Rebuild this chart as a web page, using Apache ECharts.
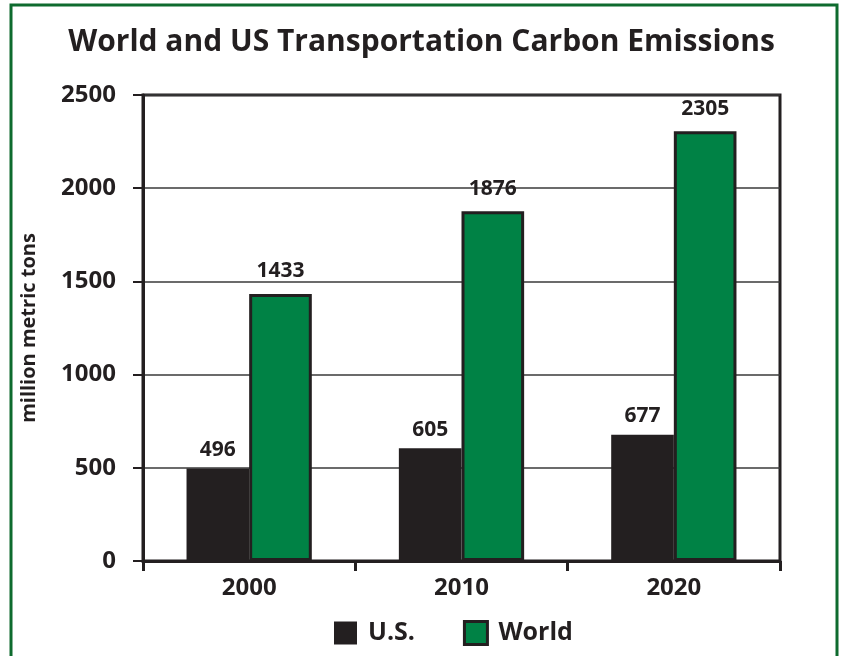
<!DOCTYPE html>
<html>
<head>
<meta charset="utf-8">
<script src="https://cdn.jsdelivr.net/npm/echarts@6/dist/echarts.min.js"></script>
<style>
  html, body { margin: 0; padding: 0; background: #fff; }
  #chart { width: 843px; height: 656px; }
</style>
</head>
<body>
<div id="chart"></div>
<script>
  const years = ['2000', '2010', '2020'];
  const usValues = [496, 605, 677];
  const worldValues = [1433, 1876, 2305];
  const yTicks = { min: 0, max: 2500, interval: 500 };

  const dark = '#231f20';
  const green = '#008245';
  const font = 'Open Sans';

  const chart = echarts.init(document.getElementById('chart'));
  chart.setOption({
    backgroundColor: '#fff',
    animation: false,
    textStyle: { fontFamily: font },
    graphic: [
      {
        type: 'rect',
        shape: { x: 11, y: 5, width: 826, height: 700 },
        style: { fill: 'none', stroke: '#0e6b2e', lineWidth: 3 },
        silent: true
      }
    ],
    title: {
      text: 'World and US Transportation Carbon Emissions',
      left: 'center',
      top: 22,
      textStyle: { fontFamily: font, fontSize: 30, fontWeight: 'bold', color: dark }
    },
    legend: {
      bottom: 5,
      left: 329,
      itemWidth: 23,
      itemHeight: 23,
      itemGap: 48,
      textStyle: { fontFamily: font, fontSize: 25, fontWeight: 'bold', color: dark, padding: [0, 0, 0, 6] },
      data: [
        { name: 'U.S.', icon: 'rect' },
        { name: 'World', icon: 'rect', itemStyle: { borderColor: dark, borderWidth: 3 } }
      ]
    },
    grid: {
      left: 143,
      right: 63,
      top: 95,
      bottom: 95,
      show: true,
      borderColor: dark,
      borderWidth: 3,
      backgroundColor: 'transparent'
    },
    xAxis: {
      type: 'category',
      data: years,
      axisLine: { lineStyle: { color: dark, width: 3 } },
      axisTick: { show: true, length: 10, lineStyle: { color: dark, width: 3 } },
      axisLabel: { fontFamily: font, fontSize: 24, fontWeight: 'bold', color: dark, margin: 15 }
    },
    yAxis: {
      type: 'value',
      min: yTicks.min,
      max: yTicks.max,
      interval: yTicks.interval,
      name: 'million metric tons',
      nameLocation: 'middle',
      nameGap: 104,
      nameTextStyle: { fontFamily: font, fontSize: 20, fontWeight: 'bold', color: dark },
      axisLine: { show: true, lineStyle: { color: dark, width: 3 } },
      axisTick: { show: true, inside: false, length: 10, lineStyle: { color: dark, width: 2 } },
      axisLabel: {
        fontFamily: font,
        fontSize: 24,
        fontWeight: 'bold',
        color: dark,
        margin: 27,
        formatter: (v) => String(v)
      },
      splitLine: { lineStyle: { color: '#3a3a3a', width: 1.5 } }
    },
    series: [
      {
        name: 'U.S.',
        type: 'bar',
        data: usValues,
        barGap: '0%',
        barCategoryGap: '41%',
        itemStyle: { color: dark },
        label: {
          show: true,
          position: 'top',
          distance: 8,
          fontFamily: font,
          fontSize: 21,
          fontWeight: 'bold',
          color: dark
        }
      },
      {
        name: 'World',
        type: 'bar',
        data: worldValues,
        itemStyle: { color: green, borderColor: dark, borderWidth: 3 },
        label: {
          show: true,
          position: 'top',
          distance: 12,
          fontFamily: font,
          fontSize: 21,
          fontWeight: 'bold',
          color: dark
        }
      }
    ]
  });
</script>
</body>
</html>
